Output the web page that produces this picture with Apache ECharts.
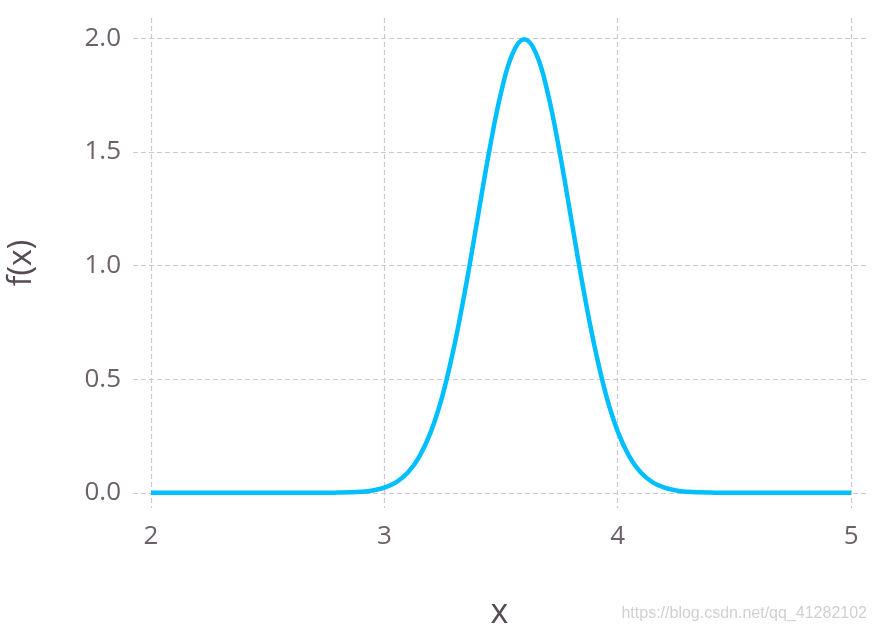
<!DOCTYPE html>
<html>
<head>
<meta charset="utf-8">
<script src="https://cdn.jsdelivr.net/npm/echarts@6/dist/echarts.min.js"></script>
<style>
html,body{margin:0;padding:0;background:#fff;}
#c{width:877px;height:632px;}
</style>
</head>
<body>
<div id="c"></div>
<script>
// x positions sampled along the curve
const xValues = [2.00,2.05,2.10,2.15,2.20,2.25,2.30,2.35,2.40,2.45,2.50,2.55,2.60,2.65,2.70,2.75,
  2.80,2.85,2.90,2.95,3.00,3.05,3.10,3.15,3.20,3.25,3.30,3.35,3.40,3.45,3.50,3.55,3.60,
  3.65,3.70,3.75,3.80,3.85,3.90,3.95,4.00,4.05,4.10,4.15,4.20,4.25,4.30,4.35,4.40,
  4.45,4.50,4.55,4.60,4.65,4.70,4.75,4.80,4.85,4.90,4.95,5.00];
// f(x) values
const fValues = [0,0,0,0,0,0,0,0,0,0,0,0,0,0,0,0,
  0.0007,0.0018,0.0044,0.0102,0.0222,0.0455,0.0876,0.159,0.270,0.431,0.648,0.913,1.210,1.506,1.760,1.933,1.995,
  1.933,1.760,1.506,1.210,0.913,0.648,0.431,0.270,0.159,0.0876,0.0455,0.0222,0.0102,0.0044,0.0018,0.0007,
  0,0,0,0,0,0,0,0,0,0,0,0];
const xTicks = [2,3,4,5];
const yTicks = [0,0.5,1,1.5,2];
const xTitle = 'x';
const yTitle = 'f(x)';
const watermark = 'https://blog.csdn.net/qq_41282102';

const chart = echarts.init(document.getElementById('c'), null, {renderer:'canvas'});
const font = '"Open Sans", "DejaVu Sans", sans-serif';
const gridLine = {show:true, lineStyle:{color:'#c8c8dc', width:1.2, type:[5,3]}};
chart.setOption({
  animation:false,
  backgroundColor:'#ffffff',
  grid:{left:133, right:11, top:18, bottom:124, containLabel:false, outerBoundsMode:'none'},
  xAxis:{
    type:'value', min:1.923, max:5.064,
    axisLine:{show:false},
    axisTick:{show:false, customValues:xTicks},
    axisLabel:{customValues:xTicks, color:'#6c606b', fontSize:26, fontFamily:font, margin:16,
      formatter:v=>String(v)},
    splitLine:gridLine,
    name:xTitle, nameLocation:'middle', nameGap:88,
    nameTextStyle:{color:'#564a55', fontSize:34, fontFamily:font}
  },
  yAxis:{
    type:'value', min:-0.067, max:2.089,
    axisLine:{show:false},
    axisTick:{show:false, customValues:yTicks},
    axisLabel:{customValues:yTicks, color:'#6c606b', fontSize:26, fontFamily:font, margin:12,
      formatter:v=>v.toFixed(1)},
    splitLine:gridLine,
    name:yTitle, nameLocation:'middle', nameGap:95, nameRotate:90,
    nameTextStyle:{color:'#564a55', fontSize:32, fontFamily:font}
  },
  graphic:[{type:'text', right:10, bottom:10,
    style:{text:watermark, fill:'#d0d0d0', font:'16px "Liberation Sans", Arial, sans-serif'}}],
  series:[{
    type:'line', data:xValues.map((x,i)=>[x,fValues[i]]),
    showSymbol:false, smooth:0.4,
    lineStyle:{color:'#00bfff', width:4.5}
  }]
});
</script>
</body>
</html>
